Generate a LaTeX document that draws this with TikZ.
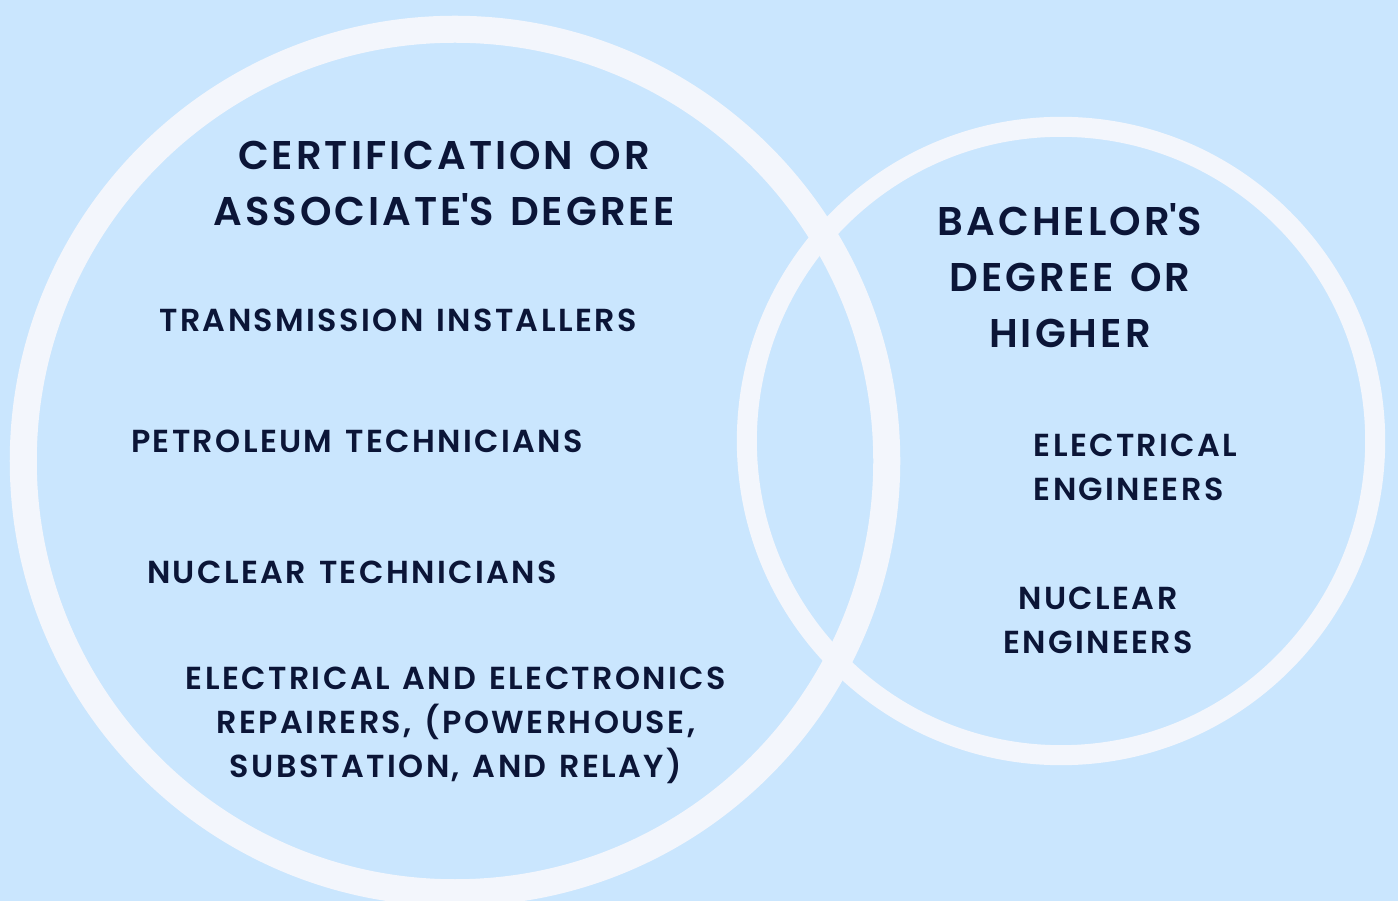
\documentclass[tikz,border=0pt]{standalone}
\usepackage{fontspec}
\setmainfont{Poppins}[BoldFont={Poppins SemiBold},LetterSpace=7.5,WordSpace=1.3]
\definecolor{bgblue}{HTML}{CAE6FE}
\definecolor{ringwhite}{HTML}{F3F6FC}
\definecolor{navy}{HTML}{0B1537}
\tikzset{
  ring/.style={draw=ringwhite},
  head/.style={text=navy, font=\bfseries\fontsize{11.4}{15.9}\selectfont, align=center, inner sep=0pt},
  job/.style={text=navy, font=\bfseries\fontsize{9.05}{12.5}\selectfont, align=center, inner sep=0pt}
}
\begin{document}
\begin{tikzpicture}[x=0.01cm, y=-0.01cm]
        \fill[bgblue] (0,0) rectangle (1398,901);
        \useasboundingbox (0,0) rectangle (1398,901);
        \draw[ring, line width=7.68pt] (455,461) circle (4.315cm);
        \draw[ring, line width=5.69pt] (1061,441) circle (3.14cm);
        \node[head] (assoc) at (444,183) {CERTIFICATION OR\\ASSOCIATE\textquotesingle S DEGREE};
        \node[head] (bach) at (1070,276) {BACHELOR\textquotesingle S\\DEGREE OR\\HIGHER};
        \node[job] (trans) at (398,320) {TRANSMISSION INSTALLERS};
        \node[job] (petro) at (357,441) {PETROLEUM TECHNICIANS};
        \node[job] (nuctech) at (352,572) {NUCLEAR TECHNICIANS};
        \node[job] (repair) at (456,725) {ELECTRICAL AND ELECTRONICS\\REPAIRERS, (POWERHOUSE,\\SUBSTATION, AND RELAY)};
        \node[job, align=left, anchor=west] (eleceng) at (1033,467) {ELECTRICAL\\ENGINEERS};
        \node[job] (nuceng) at (1098,620) {NUCLEAR\\ENGINEERS};
    \end{tikzpicture}
\end{document}
